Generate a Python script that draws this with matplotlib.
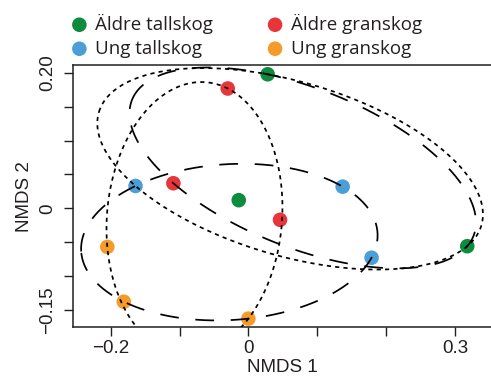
import numpy as np
import matplotlib
matplotlib.use("Agg")
import matplotlib.pyplot as plt

# ---- data (NMDS scores) ----
groups = ["Äldre tallskog", "Äldre granskog", "Ung tallskog", "Ung granskog"]
colors = ["#0c8c3c", "#e8353a", "#4b9fd6", "#f59b2a"]

aldre_tall_x = [0.028, -0.014, 0.318]
aldre_tall_y = [0.198, 0.012, -0.056]
aldre_gran_x = [-0.030, -0.109, 0.046]
aldre_gran_y = [0.177, 0.037, -0.017]
ung_tall_x = [-0.164, 0.137, 0.179]
ung_tall_y = [0.033, 0.032, -0.073]
ung_gran_x = [-0.205, -0.181, 0.000]
ung_gran_y = [-0.057, -0.138, -0.163]

xs = [aldre_tall_x, aldre_gran_x, ung_tall_x, ung_gran_x]
ys = [aldre_tall_y, aldre_gran_y, ung_tall_y, ung_gran_y]

# ellipse groupings (indices into groups) and their line styles
hull_sets = {
    "tall": [0, 2],
    "gran": [1, 3],
    "aldre": [0, 1],
    "ung": [2, 3],
}
dotted = (0, (3.0, 3.0))
longdash = (0, (13.5, 12.0))
hull_styles = {"tall": dotted, "gran": dotted, "aldre": longdash, "ung": longdash}

xticks = [-0.2, -0.1, 0.0, 0.1, 0.2, 0.3]
xticklabels = ["\u22120.2", "", "0", "", "", "0.3"]
yticks = [-0.15, -0.10, -0.05, 0.0, 0.05, 0.10, 0.15, 0.20]
yticklabels = ["\u22120.15", "", "", "0", "", "", "", "0.20"]


def mvee(P, tol=1e-9):
    """Minimum volume enclosing ellipse (Khachiyan)."""
    N, d = P.shape
    Q = np.vstack([P.T, np.ones(N)])
    u = np.ones(N) / N
    err = 1.0
    it = 0
    while err > tol and it < 20000:
        X = Q @ np.diag(u) @ Q.T
        M = np.einsum("ij,ji->i", Q.T @ np.linalg.inv(X), Q)
        j = np.argmax(M)
        mx = M[j]
        step = (mx - d - 1.0) / ((d + 1.0) * (mx - 1.0))
        nu = (1 - step) * u
        nu[j] += step
        err = np.linalg.norm(nu - u)
        u = nu
        it += 1
    c = P.T @ u
    A = np.linalg.inv(P.T @ np.diag(u) @ P - np.outer(c, c)) / d
    return A, c


plt.rcParams["lines.scale_dashes"] = False
fig = plt.figure(figsize=(4.91, 3.80), dpi=100)
L, R, B, T = 73.3, 492.0, 327.3, 65.0
ax = fig.add_axes([L / 491, 1 - B / 380, (R - L) / 491, (B - T) / 380])

handles = []
for gx, gy, col, name in zip(xs, ys, colors, groups):
    h = ax.scatter(gx, gy, s=110, color=col, edgecolors="none", zorder=2, label=name)
    handles.append(h)

t = np.linspace(0, 2 * np.pi, 400)
for key, idx in hull_sets.items():
    P = np.column_stack([np.concatenate([xs[i] for i in idx]),
                         np.concatenate([ys[i] for i in idx])])
    A, c = mvee(P)
    w, V = np.linalg.eigh(A)
    pts = c[:, None] + V @ np.diag(1 / np.sqrt(w)) @ np.vstack([np.cos(t), np.sin(t)])
    ax.plot(pts[0], pts[1], color="black", lw=1.25, linestyle=hull_styles[key], zorder=3)

ax.set_xlim(-0.2544, 0.354)
ax.set_ylim(-0.1758, 0.2117)

tick_font = dict(family="Liberation Sans", size=13.5)
ax.set_xticks(xticks)
ax.set_xticklabels(xticklabels, fontdict=tick_font, color="#231f20")
ax.set_yticks(yticks)
ax.set_yticklabels(yticklabels, fontdict=tick_font, rotation=90, va="center", color="#231f20")
ax.tick_params(axis="both", direction="out", length=6.5, width=1.0, color="#231f20")
ax.tick_params(axis="x", pad=3)
ax.tick_params(axis="y", pad=6)
for s in ax.spines.values():
    s.set_linewidth(1.1)
    s.set_color("#231f20")

ax.set_xlabel("NMDS 1", family="Liberation Sans", size=13.5, color="#231f20", labelpad=1)
ax.set_ylabel("NMDS 2", family="Liberation Sans", size=13.5, color="#231f20", labelpad=4)

# legend filled column-wise: order so rows read Äldre / Ung
leg_order = [0, 2, 1, 3]
leg = fig.legend(handles=[handles[i] for i in leg_order], loc="upper left",
                 bbox_to_anchor=(55 / 491, 1 - 0.5 / 380),
                 ncol=2, frameon=False, prop=dict(family="Open Sans", size=13.5),
                 handletextpad=0.25, columnspacing=2.7, labelspacing=0.32,
                 markerscale=1.0, borderpad=0.2, handlelength=1.2)
for txt in leg.get_texts():
    txt.set_color("#231f20")

fig.savefig("out.png", dpi=100)
